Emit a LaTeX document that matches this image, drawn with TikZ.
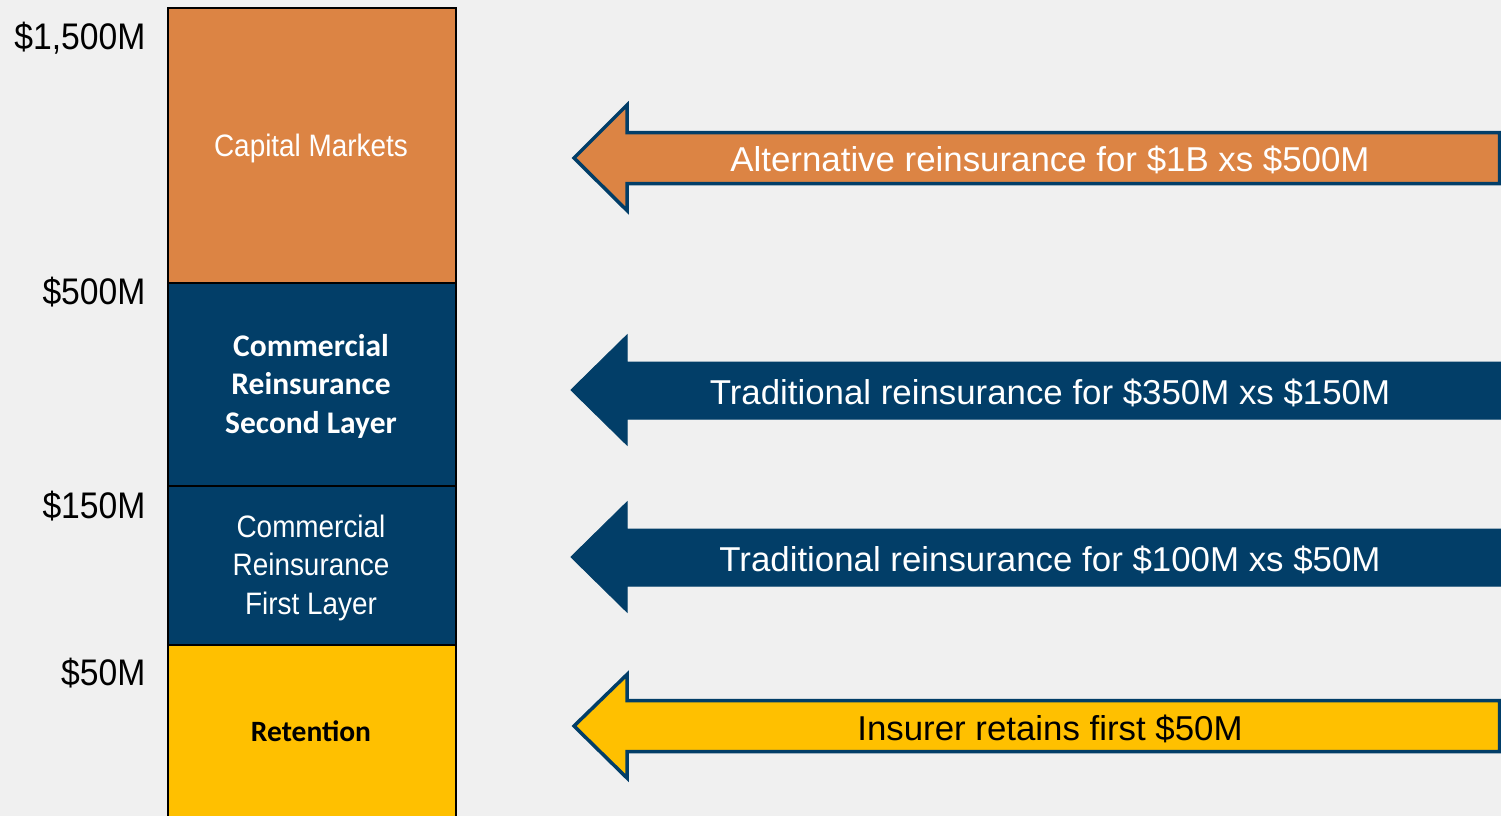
\documentclass[tikz,border=0pt]{standalone}
\usepackage{fontspec}
\setmainfont{Carlito}
\newfontfamily\narrowfont[FakeStretch=0.9]{Liberation Sans}
\newfontfamily\labelfont[FakeStretch=0.91]{Liberation Sans}
\newfontfamily\widefont[FakeStretch=1.01]{Liberation Sans}
\definecolor{bg}{HTML}{F0F0F0}
\definecolor{capOrange}{HTML}{DC8444}
\definecolor{navy}{HTML}{023E68}
\definecolor{gold}{HTML}{FFC000}
\tikzset{
  layer/.style={draw=black, line width=2pt, minimum width=288pt, anchor=north west,
    inner sep=0pt},
  layertext/.style={align=center, inner sep=0pt},
  narrowtext/.style={layertext, font=\narrowfont\fontsize{31}{38.5}\selectfont},
  boldtext/.style={layertext, font=\bfseries\fontsize{31.5}{38.5}\selectfont},
  amount/.style={anchor=base east, font=\labelfont\fontsize{37}{44}\selectfont, text=black},
  arrowbody/.style={draw=navy, line width=3.5pt, line join=miter},
  arrowtext/.style={anchor=base, font=\widefont\fontsize{34.5}{40}\selectfont}
}
\begin{document}
\begin{tikzpicture}[x=1pt,y=-1pt]
\clip (0,0) rectangle (1501,816);
\fill[bg] (0,0) rectangle (1501,816);

% layered programme
\node[layer, fill=capOrange, minimum height=275pt] (cap) at (167,7) {};
\node[layer, fill=navy, minimum height=203pt] (second) at (167,282) {};
\node[layer, fill=navy, minimum height=159pt] (first) at (167,485) {};
\node[layer, fill=gold, minimum height=176pt] (ret) at (167,644) {};

\node[narrowtext, text=white, text height=22pt, text depth=0pt] (captxt) at (311,145.5) {Capital Markets};
\node[boldtext, text=white] (secondtxt) at (311,386) {Commercial\\Reinsurance\\Second Layer};
\node[narrowtext, text=white] (firsttxt) at (311,567.5) {Commercial\\Reinsurance\\First Layer};
\node[layertext, font=\bfseries\fontsize{29.5}{36}\selectfont, text height=18.6pt, text depth=0pt, text=black] (rettxt) at (311,732) {Retention};

% attachment points
\node[amount] (l1500) at (149,50) {\$1,500M};
\node[amount] (l500) at (149,304) {\$500M};
\node[amount] (l150) at (149,518) {\$150M};
\node[amount] (l50) at (149,685) {\$50M};

% arrows
\draw[arrowbody, fill=capOrange] (574,158) -- (627,105) -- (627,132.5) -- (1499.5,132.5)
  -- (1499.5,183.5) -- (627,183.5) -- (627,210.5) -- cycle;
\draw[arrowbody, line width=1pt, fill=navy] (571,390) -- (627,335) -- (627,362) -- (1503,362)
  -- (1503,419) -- (627,419) -- (627,445) -- cycle;
\draw[arrowbody, line width=1pt, fill=navy] (571,557) -- (627,502) -- (627,529) -- (1503,529)
  -- (1503,586) -- (627,586) -- (627,612) -- cycle;
\draw[arrowbody, fill=gold] (574,726) -- (627,674.5) -- (627,700.5) -- (1499.5,700.5)
  -- (1499.5,751.5) -- (627,751.5) -- (627,778) -- cycle;

\node[arrowtext, text=white] (alt) at (1050,171) {Alternative reinsurance for \$1B xs \$500M};
\node[arrowtext, text=white] (trad2) at (1050,404) {Traditional reinsurance for \$350M xs \$150M};
\node[arrowtext, text=white] (trad1) at (1050,571) {Traditional reinsurance for \$100M xs \$50M};
\node[arrowtext, text=black] (keep) at (1050,740) {Insurer retains first \$50M};
\end{tikzpicture}
\end{document}
